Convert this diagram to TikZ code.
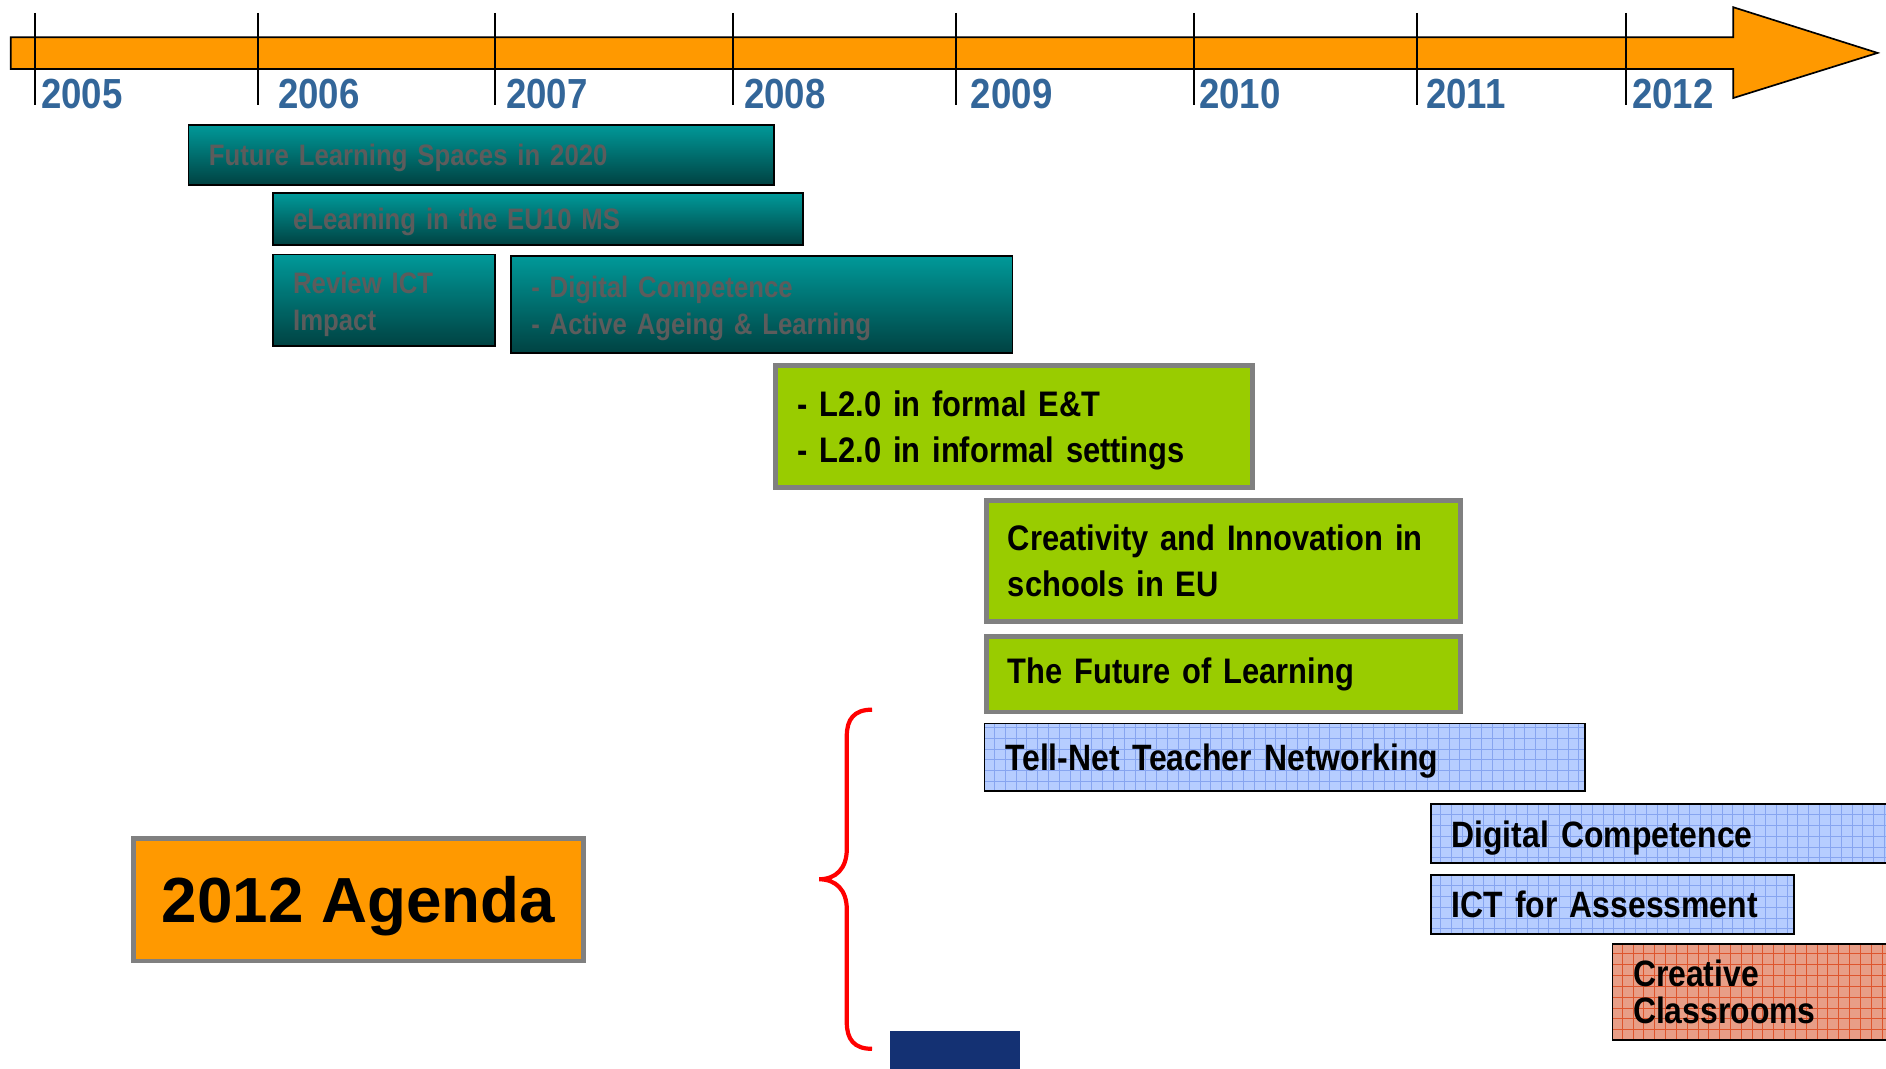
\documentclass[tikz,border=0pt]{standalone}
\usepackage{fontspec}
\newfontfamily\narrowsans[FakeStretch=0.87]{Liberation Sans}
\newfontfamily\agendasans{Liberation Sans}

\definecolor{timeorange}{RGB}{255,153,0}
\definecolor{yearblue}{RGB}{51,102,153}
\definecolor{tealtop}{RGB}{0,153,153}
\definecolor{tealbottom}{RGB}{0,66,66}
\definecolor{tealtext}{RGB}{92,92,92}
\definecolor{limegreen}{RGB}{153,204,0}
\definecolor{framegray}{RGB}{128,128,128}
\definecolor{gridfill}{RGB}{182,205,255}
\definecolor{gridline}{RGB}{135,165,240}
\definecolor{salmonfill}{RGB}{232,158,135}
\definecolor{salmonline}{RGB}{222,85,45}
\definecolor{navyblock}{RGB}{20,49,115}

\tikzset{
  yearlabel/.style = {anchor=base west, inner sep=0pt, text=yearblue,
    font=\narrowsans\bfseries\fontsize{35}{42}\selectfont},
  project/.style = {anchor=north west, align=left, inner ysep=0pt,
    font=\narrowsans\bfseries\fontsize{30.5}{38}\selectfont},
  tealbox/.style = {project, draw=black, line width=1.4pt, top color=tealtop,
    bottom color=tealbottom, text=tealtext, inner xsep=17pt,
    font=\narrowsans\bfseries\fontsize{24.6}{31}\selectfont},
  greenbox/.style = {project, draw=framegray, line width=4pt, fill=limegreen,
    inner xsep=18pt, font=\narrowsans\bfseries\fontsize{29.5}{38}\selectfont},
  gridbox/.style 2 args = {project, draw=black, line width=1.3pt, fill=#1,
    inner xsep=17pt, path picture={
      \draw[#2, line width=0.7pt] (path picture bounding box.south west)
        grid[step=9pt] (path picture bounding box.north east);}},
  bluebox/.style = {gridbox={gridfill}{gridline}, text depth=0pt},
  redbox/.style = {gridbox={salmonfill}{salmonline},
    font=\narrowsans\bfseries\fontsize{30.5}{31}\selectfont},
}

\begin{document}
\begin{tikzpicture}[x=1pt, y=-1pt]
  \useasboundingbox (0,0) rectangle (1568,888);
  \clip (0,0) rectangle (1568,888);
  % time axis
  \draw[fill=timeorange, line width=1.4pt] (9,31) -- (1441,31) -- (1441,6)
    -- (1561,44) -- (1441,81.5) -- (1441,57.4) -- (9,57.4) -- cycle;
  \foreach \yr/\tx/\lx in {2005/28.8/34, 2006/214.5/231, 2007/411.5/420.5,
      2008/609.4/618.4, 2009/794.8/807, 2010/992.7/996.7, 2011/1178.1/1185.4,
      2012/1351.9/1356.7} {
    \draw[line width=1.6pt] (\tx,10.8) -- (\tx,87.3);
    \node[yearlabel] (y\yr) at (\lx,89.8) {\yr};
  }
  %
  \node[tealbox, text width=453pt, minimum height=50pt, text depth=0pt] (spaces)
    at (156,103) {Future Learning Spaces in 2020};
  \node[tealbox, text width=407pt, minimum height=43pt, text depth=0pt] (euten)
    at (226,160) {eLearning in the EU10 MS};
  \node[tealbox, text width=151pt, minimum height=76pt, text depth=30pt] (review)
    at (226,211) {Review ICT\\Impact};
  \node[tealbox, text width=383pt, minimum height=81pt, text depth=30pt] (ageing)
    at (424,212) {- Digital Competence\\- Active Ageing \& Learning};
  %
  \node[greenbox, text width=360pt, minimum height=101pt, text depth=38pt] (ltwo)
    at (643,302) {- L2.0 in formal E\&T\\- L2.0 in informal settings};
  \node[greenbox, text width=358pt, minimum height=101pt] (creativity) at (818,414)
    {Creativity and Innovation in\\schools in EU};
  \node[greenbox, text width=358pt, minimum height=63pt] (future) at (818,527)
    {The Future of Learning};
  %
  \node[bluebox, text width=465pt, minimum height=56pt] (tellnet) at (818,601)
    {Tell-Net Teacher Networking};
  \node[bluebox, text width=380pt, minimum height=49pt] (digcomp) at (1189,668)
    {Digital Competence};
  \node[bluebox, text width=268pt, minimum height=49pt] (assess) at (1189,727)
    {ICT for Assessment};
  \node[redbox, text width=230pt, minimum height=80pt] (classrooms) at (1340,784)
    {Creative\\Classrooms};
  %
  \node[anchor=north west, draw=framegray, line width=4pt, fill=timeorange,
    minimum width=374pt, minimum height=102pt, text depth=0pt,
    font=\agendasans\bfseries\fontsize{53}{60}\selectfont] (agenda) at (109,695)
    {2012 Agenda\hspace{10pt}};
  % brace and block at the foot
  \draw[red, line width=3.5pt] (725,590) .. controls (710,590) and (704,598) .. (704,612)
    -- (704,706) .. controls (704,722) and (695,731) .. (681,731)
    .. controls (695,731) and (704,740) .. (704,756) -- (704,850)
    .. controls (704,864) and (710,872) .. (725,872);
  \fill[navyblock] (740,857) rectangle (848,900);
\end{tikzpicture}
\end{document}
